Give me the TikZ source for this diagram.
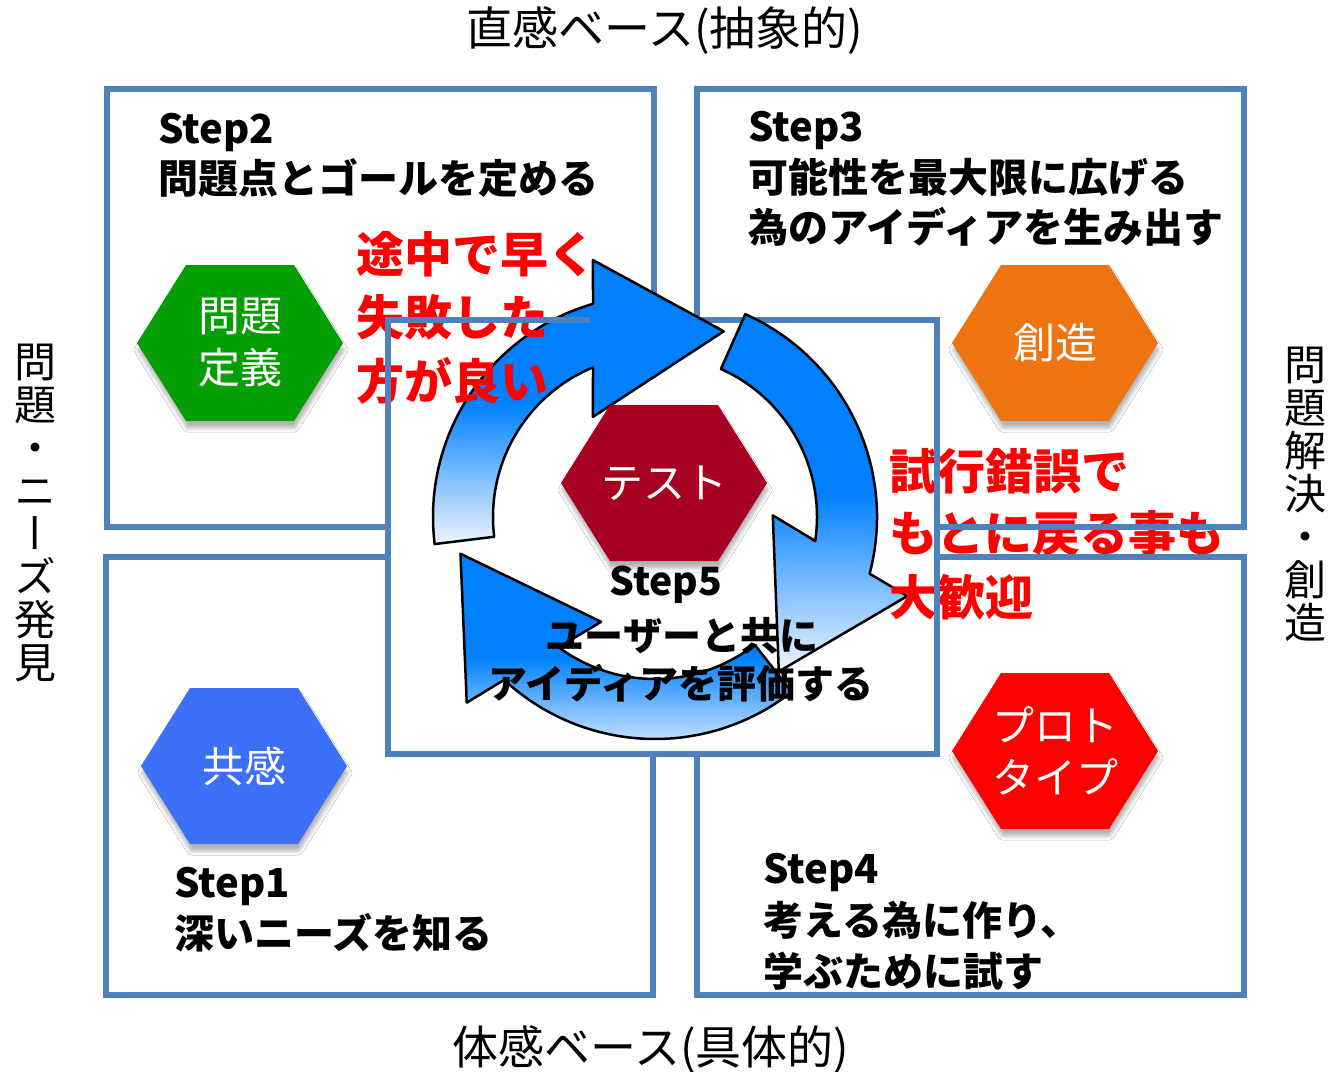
\documentclass[tikz,border=0pt]{standalone}
\usepackage{fontspec}
\setmainfont{Noto Sans CJK JP}
\newfontfamily\vertjp[RawFeature=+vert]{Noto Sans CJK JP}
\usetikzlibrary{shadows.blur}

\definecolor{boxblue}{RGB}{79,129,189}
\definecolor{ringblue}{RGB}{0,128,255}
\definecolor{ringpale}{RGB}{238,245,255}
\definecolor{hexgreen}{RGB}{5,158,5}
\definecolor{hexorange}{RGB}{238,116,17}
\definecolor{hexcrimson}{RGB}{166,0,34}
\definecolor{hexblue}{RGB}{61,112,248}
\definecolor{hexred}{RGB}{255,0,0}
\definecolor{notered}{RGB}{255,0,0}

\tikzset{
  quad/.style={draw=boxblue, line width=6.5pt, fill=white},
  boxline/.style={draw=boxblue, line width=6.5pt},
  ringfill/.style={draw=black, line width=2.5pt, line join=round,
    top color=ringblue, bottom color=ringpale, middle color=ringblue},
  hexshadow/.style={blur shadow={shadow xshift=1pt, shadow yshift=-7pt,
    shadow blur radius=4pt, shadow opacity=30}},
  hexlabel/.style={font=\fontsize{42}{52}\selectfont, text=white, align=center, inner sep=0pt},
  steptext/.style={font=\fontsize{40}{50}\selectfont\bfseries, anchor=base west, inner sep=0pt},
  centretext/.style={font=\fontsize{39}{48}\selectfont\bfseries, anchor=base, inner sep=0pt},
  notetext/.style={font=\fontsize{48}{63}\selectfont\bfseries, text=notered, anchor=base west, inner sep=0pt},
  axistext/.style={font=\fontsize{46}{52}\selectfont, anchor=base, inner sep=0pt},
  sidetext/.style={font=\fontsize{42}{43}\selectfont\vertjp, align=center, inner sep=0pt},
}

% one curved block arrow of the cycle, turned by #1 degrees (clockwise on the page)
\newcommand{\ringarrow}[1]{%
  \path[ringfill] ({173+#1}:222) arc[start angle={173+#1}, end angle={253.8+#1}, radius=222]
    -- ({256.4+#1}:264.4) -- ({290.3+#1}:198) -- ({238.2+#1}:117.8) -- ({247.5+#1}:162)
    arc[start angle={247.5+#1}, end angle={173+#1}, radius=162] -- cycle;
}

% hexagon badge: name, centre, colour, label
\newcommand{\hexbadge}[4]{%
  \fill[#3, hexshadow, shift={#2}] (-103,0) -- (-54,-78) -- (54,-78) -- (103,0)
    -- (54,78) -- (-54,78) -- cycle;
  \node[hexlabel] (#1) at #2 {#4};
}

\begin{document}
\begin{tikzpicture}[x=1pt, y=-1pt]
\useasboundingbox (0,0) rectangle (1333,1071);
\fill[white] (0,0) rectangle (1333,1071);

% four quadrants
\path[quad] (107,89) rectangle (654,527);
\path[quad] (697,89) rectangle (1244,527);
\path[quad] (106,557) rectangle (653,995);
\path[quad] (697,557) rectangle (1244,995);
% central test box
\path[quad] (388,320) rectangle (937,754);

% cycle of three arrows
\begin{scope}[shift={(655,517)}]
  \ringarrow{0}
  \ringarrow{121}
  \ringarrow{239}
\end{scope}

% hexagon badges
\hexbadge{define}{(240,343)}{hexgreen}{問題\\定義}
\hexbadge{ideate}{(1055,343)}{hexorange}{創造}
\hexbadge{test}{(664,483)}{hexcrimson}{テスト}
\hexbadge{empathy}{(244,766)}{hexblue}{共感}
\hexbadge{proto}{(1055,751)}{hexred}{プロト\\タイプ}

% step descriptions
\node[steptext] (s2a) at (158,143) {Step2};
\node[steptext] (s2b) at (158,193) {問題点とゴールを定める};
\node[steptext] (s3a) at (748,141) {Step3};
\node[steptext] (s3b) at (748,192) {可能性を最大限に広げる};
\node[steptext] (s3c) at (748,242) {為のアイディアを生み出す};
\node[steptext] (s1a) at (174,897) {Step1};
\node[steptext] (s1b) at (174,948) {深いニーズを知る};
\node[steptext] (s4a) at (763,883) {Step4};
\node[steptext] (s4b) at (763,935) {考える為に作り、};
\node[steptext] (s4c) at (763,986) {学ぶために試す};
\node[centretext] (s5a) at (666,595) {Step5};
\node[centretext] (s5b) at (682,650) {ユーザーと共に};
\node[centretext] (s5c) at (681,698) {アイディアを評価する};

% axis labels
\node[axistext] (top) at (665,45) {直感ベース(抽象的)};
\node[axistext] (bottom) at (651,1064) {体感ベース(具体的)};
\node[sidetext] (left) at (35,513) {問\\題\\・\\ニ\\ー\\ズ\\発\\見};
\node[sidetext] (right) at (1305,494) {問\\題\\解\\決\\・\\創\\造};

% red remarks
\node[notetext] (n1) at (356,272) {途中で早く};
\node[notetext] (n2) at (356,335) {失敗した};
\node[notetext] (n3) at (356,399) {方が良い};
\node[notetext] (n4) at (889,489) {試行錯誤で};
\node[notetext] (n5) at (889,551) {もとに戻る事も};
\node[notetext] (n6) at (889,615) {大歓迎};

% frame lines that run across the remarks
\path[boxline] (388,754) -- (388,320) -- (590,320);
\path[boxline] (937,320) -- (937,754);
\path[boxline] (937,527) -- (1244,527);
\path[boxline] (937,557) -- (1244,557);
\end{tikzpicture}
\end{document}
